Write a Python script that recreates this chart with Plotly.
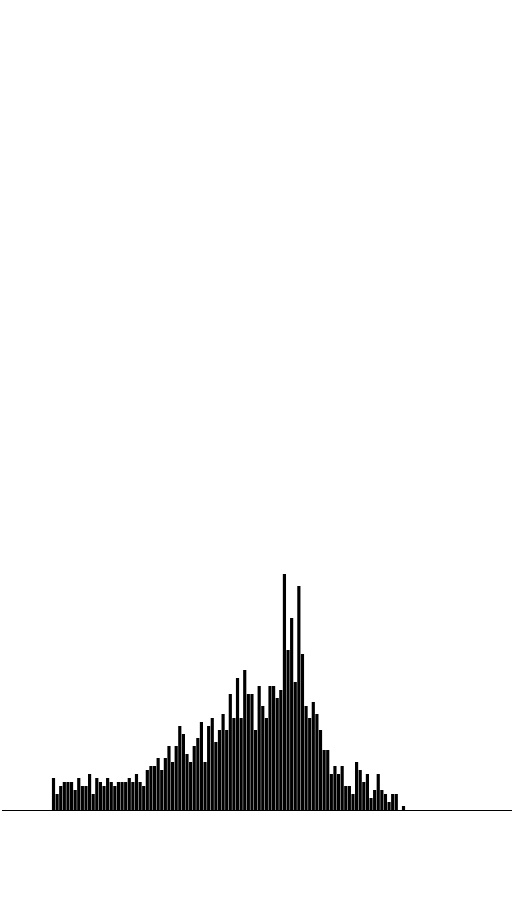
import plotly.graph_objects as go

# bar heights, left to right
values = [8, 4, 6, 7, 7, 7, 5, 8, 6, 6, 9, 4, 8, 7, 6, 8, 7, 6, 7, 7, 7, 8, 7, 9, 7, 6, 10, 11, 11,
          13, 10, 13, 16, 12, 16, 21, 19, 14, 12, 16, 18, 22, 12, 21, 23, 17, 20, 24, 20, 29, 23,
          33, 23, 35, 29, 29, 20, 31, 26, 23, 31, 31, 28, 30, 59, 40,
          48, 32, 56, 39, 26, 23, 27, 24, 20, 15, 15, 9, 11, 9, 11, 6, 6, 4, 12, 10, 7, 9, 3, 5,
          9, 5, 4, 2, 4, 4, 0, 1]
categories = list(range(len(values)))

N = len(values)
W, H = 512, 900
left_px, right_px, base_px = 2, 512, 810
first_c, last_c = 53.5, 403.5
pitch = (last_c - first_c) / (N - 1)
xa = -(first_c - left_px) / pitch
xb = xa + (right_px - left_px) / pitch
unit_px = 4.0

fig = go.Figure(go.Bar(x=categories, y=values, marker=dict(color="black", line=dict(width=0))))
fig.update_layout(
    width=W, height=H,
    margin=dict(l=left_px, r=W - right_px, t=0, b=H - base_px),
    plot_bgcolor="white", paper_bgcolor="white",
    bargap=0.12, showlegend=False,
)
fig.update_xaxes(range=[xa, xb], showline=True, linecolor="black", linewidth=1,
                 showgrid=False, zeroline=False, showticklabels=False, ticks="")
fig.update_yaxes(range=[0, base_px / unit_px], showline=False, showgrid=False,
                 zeroline=False, showticklabels=False, ticks="")
fig.write_html("out.html", config={"displayModeBar": False})
